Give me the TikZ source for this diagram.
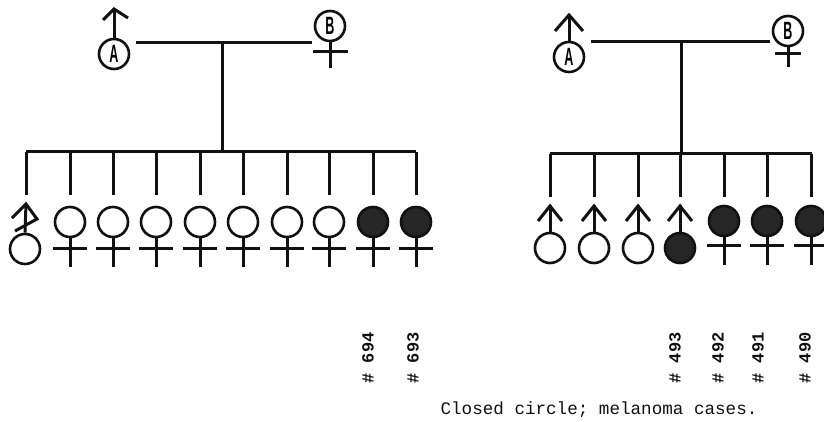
\documentclass[tikz,border=0pt]{standalone}
\usepackage{fontspec}
\newfontfamily\monof{Liberation Mono}
\newfontfamily\lettf{Liberation Sans}
\definecolor{ink}{HTML}{111111}
\definecolor{affected}{HTML}{262626}
\tikzset{
  ln/.style={line width=3pt, draw=ink},
  pcirc/.style={circle, draw=ink, line width=2.6pt, minimum size=30pt, inner sep=0pt},
  opencirc/.style={pcirc, fill=white},
  fillcirc/.style={pcirc, fill=affected},
  letter/.style={pcirc, font=\lettf\bfseries\fontsize{25}{25}\selectfont},
  numlab/.style={rotate=90, font=\monof\bfseries\fontsize{17}{17}\selectfont, inner sep=0pt, text=ink},
  caption/.style={font=\monof\fontsize{17.6}{18}\selectfont, inner sep=0pt, text=ink}
}
\begin{document}
\begin{tikzpicture}[x=1pt,y=-1pt]
\useasboundingbox (0,0) rectangle (824,422);
\fill[white] (0,0) rectangle (824,422);

% ---------- left pedigree ----------
\node[letter] (LA) at (114,54) {\scalebox{0.5}[1]{A}};
\coordinate (LAtip) at (114,9);
\draw[ln] (LA.north) -- (LAtip);
\draw[ln] (103,20) -- (LAtip) -- (128,18);
\node[letter] (LB) at (330,26) {\scalebox{0.5}[1]{B}};
\coordinate (LBend) at (330,68);
\draw[ln] (LB.south) -- (LBend);
\draw[ln] (313,52) -- (348,52);
\coordinate (LM1) at (136,43);
\coordinate (LM2) at (312,43);
\draw[ln] (LM1) -- (LM2);
\coordinate (LD1) at (222,43);
\coordinate (LD2) at (222,152);
\draw[ln] (LD1) -- (LD2);
\coordinate (LS1) at (26,152);
\coordinate (LS2) at (416,152);
\draw[ln] (LS1) -- (LS2);

\foreach \x in {26,70,113,156,200,243,287,329,373,416}{
  \draw[ln] (\x,152) -- (\x,195);
}
% first child (male, marked)
\node[opencirc] (L1) at (25,249) {};
\coordinate (L1top) at (26,204);
\draw[ln] (L1.north) -- (L1top);
\draw[ln] (12,218) -- (L1top) -- (37,219) -- (15,231);

% females
\foreach \i/\x/\st in {2/70/opencirc,3/113/opencirc,4/156/opencirc,5/200/opencirc,6/243/opencirc,7/287/opencirc,8/329/opencirc,9/373/fillcirc,10/416/fillcirc}{
  \node[\st] (L\i) at (\x,222) {};
  \draw[ln] (L\i.south) -- ++(0,29);
  \draw[ln] (\x-17,248) -- (\x+17,248);
}

\node[numlab] (n694) at (368,358) {\#~694};
\node[numlab] (n693) at (413,358) {\#~693};

% ---------- right pedigree ----------
\node[letter] (RA) at (569,57) {\scalebox{0.5}[1]{A}};
\coordinate (RAtip) at (569,15);
\draw[ln] (RA.north) -- (RAtip);
\draw[ln] (555,31) -- (RAtip) -- (583,31);
\node[letter] (RB) at (788,31) {\scalebox{0.5}[1]{B}};
\coordinate (RBend) at (788,67);
\draw[ln] (RB.south) -- (RBend);
\draw[ln] (775,54) -- (801,54);
\coordinate (RM1) at (591,42);
\coordinate (RM2) at (770,42);
\draw[ln] (RM1) -- (RM2);
\coordinate (RD1) at (681,42);
\coordinate (RD2) at (681,154);
\draw[ln] (RD1) -- (RD2);
\coordinate (RS1) at (550,154);
\coordinate (RS2) at (812,154);
\draw[ln] (RS1) -- (RS2);
\foreach \x in {550,594,638,680,724,767,811}{
  \draw[ln] (\x,154) -- (\x,197);
}
% males
\foreach \i/\x/\st in {1/550/opencirc,2/594/opencirc,3/638/opencirc,4/680/fillcirc}{
  \node[\st] (R\i) at (\x,248) {};
  \draw[ln] (R\i.north) -- ++(0,-27);
  \draw[ln] (\x-12,221) -- (\x,206) -- (\x+12,221);
}
% females
\foreach \i/\x in {5/724,6/767,7/811}{
  \node[fillcirc] (R\i) at (\x,221) {};
  \draw[ln] (R\i.south) -- ++(0,28);
  \draw[ln] (\x-17,245) -- (\x+17,245);
}

\node[numlab] (n493) at (675,358) {\#~493};
\node[numlab] (n492) at (718,358) {\#~492};
\node[numlab] (n491) at (758,358) {\#~491};
\node[numlab] (n490) at (805,358) {\#~490};

\node[caption] (cap) at (599,410) {Closed circle; melanoma cases.};
\end{tikzpicture}
\end{document}
